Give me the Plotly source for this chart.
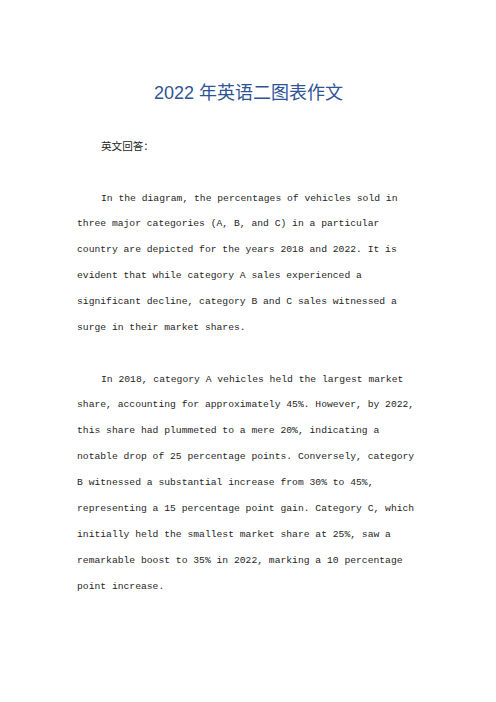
import plotly.graph_objects as go

title_text = "2022 年英语二图表作文"
heading_text = "英文回答："
para1 = [
    "In the diagram, the percentages of vehicles sold in",
    "three major categories (A, B, and C) in a particular",
    "country are depicted for the years 2018 and 2022. It is",
    "evident that while category A sales experienced a",
    "significant decline, category B and C sales witnessed a",
    "surge in their market shares.",
]
para2 = [
    "In 2018, category A vehicles held the largest market",
    "share, accounting for approximately 45%. However, by 2022,",
    "this share had plummeted to a mere 20%, indicating a",
    "notable drop of 25 percentage points. Conversely, category",
    "B witnessed a substantial increase from 30% to 45%,",
    "representing a 15 percentage point gain. Category C, which",
    "initially held the smallest market share at 25%, saw a",
    "remarkable boost to 35% in 2022, marking a 10 percentage",
    "point increase.",
]

W, H = 496, 702
PAD = 8  # default page body margin
LEFT, INDENT = 75, 99
LINE = 25.95
BODY_FONT = dict(family="Liberation Mono, monospace", size=9.7, color="#262626")

fig = go.Figure()
fig.add_trace(go.Scatter(x=[PAD, W - PAD], y=[PAD, H - PAD], mode="markers",
                         marker=dict(opacity=0), hoverinfo="skip", showlegend=False))

ann = []
ann.append(dict(x=W / 2, y=93, text=title_text, showarrow=False, xanchor="center", yanchor="middle",
                font=dict(family="Liberation Sans, Noto Sans CJK SC", size=18, color="#2F5496")))
ann.append(dict(x=INDENT, y=145, text=heading_text, showarrow=False, xanchor="left", yanchor="middle",
                font=dict(family="Noto Sans CJK SC", size=10.6, color="#262626")))

def add_para(lines, y0):
    for i, t in enumerate(lines):
        ann.append(dict(x=INDENT if i == 0 else LEFT, y=y0 + i * LINE, text=t, showarrow=False,
                        xanchor="left", yanchor="middle", font=BODY_FONT))

add_para(para1, 198)
add_para(para2, 379)

fig.update_layout(
    width=W - 2 * PAD, height=H - 2 * PAD,
    margin=dict(l=0, r=0, t=0, b=0),
    paper_bgcolor="white", plot_bgcolor="white",
    xaxis=dict(range=[PAD, W - PAD], visible=False, fixedrange=True),
    yaxis=dict(range=[H - PAD, PAD], visible=False, fixedrange=True),
    annotations=ann,
    showlegend=False,
)
fig.write_html("out.html", config={"displayModeBar": False})
